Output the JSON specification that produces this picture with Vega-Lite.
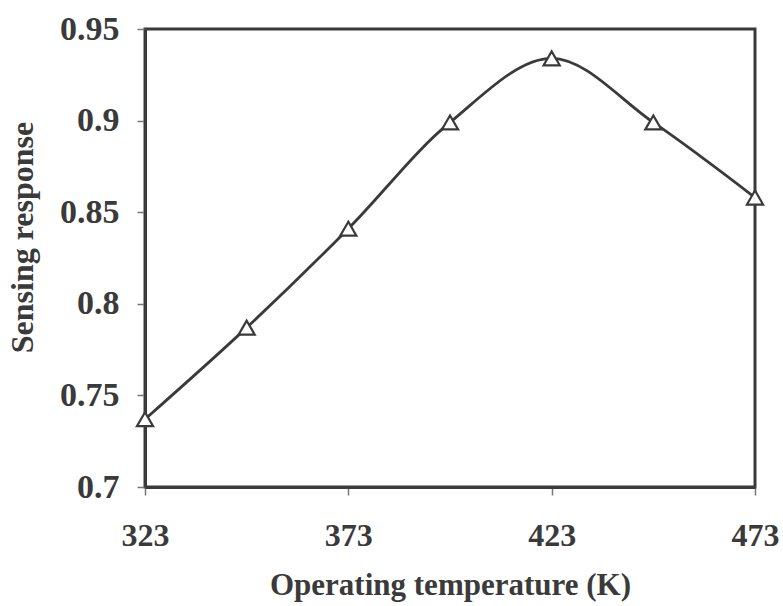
{
  "$schema": "https://vega.github.io/schema/vega-lite/v6.json",
  "autosize": "none",
  "width": 610,
  "height": 458,
  "padding": {"left": 145, "top": 29, "right": 28, "bottom": 119},
  "background": "white",
  "config": {
    "view": {"stroke": "#3a3a3a", "strokeWidth": 3},
    "axis": {
      "grid": false,
      "domainColor": "#3a3a3a",
      "domainWidth": 3,
      "tickColor": "#777777",
      "tickWidth": 1.5,
      "tickSize": 8,
      "labelFont": "Liberation Serif",
      "labelFontWeight": "bold",
      "labelColor": "#3a3a3a",
      "titleFont": "Liberation Serif",
      "titleFontWeight": "bold",
      "titleColor": "#3a3a3a"
    }
  },
  "data": {
    "values": [
      {"temperature": 323, "response": 0.737},
      {"temperature": 348, "response": 0.787},
      {"temperature": 373, "response": 0.841},
      {"temperature": 398, "response": 0.899},
      {"temperature": 423, "response": 0.934},
      {"temperature": 448, "response": 0.899},
      {"temperature": 473, "response": 0.858}
    ]
  },
  "encoding": {
    "x": {
      "field": "temperature",
      "type": "quantitative",
      "scale": {"domain": [323, 473], "nice": false, "zero": false},
      "axis": {
        "values": [323, 373, 423, 473],
        "title": "Operating temperature (K)",
        "labelFontSize": 32,
        "titleFontSize": 31,
        "labelPadding": 25,
        "titlePadding": 19,
        "labelFlush": false
      }
    },
    "y": {
      "field": "response",
      "type": "quantitative",
      "scale": {"domain": [0.7, 0.95], "nice": false, "zero": false},
      "axis": {
        "values": [0.7, 0.75, 0.8, 0.85, 0.9, 0.95],
        "format": "~g",
        "title": "Sensing response",
        "labelFontSize": 34,
        "titleFontSize": 32,
        "labelPadding": 18,
        "titlePadding": 20,
        "titleY": 208,
        "labelFlush": false
      }
    }
  },
  "layer": [
    {
      "mark": {"type": "line", "interpolate": "catmull-rom", "color": "#3a3a3a", "strokeWidth": 2.8}
    },
    {
      "mark": {"type": "point", "shape": "triangle-up", "size": 260, "filled": false, "fill": "white", "fillOpacity": 1, "stroke": "#3a3a3a", "strokeWidth": 2.2, "opacity": 1}
    }
  ]
}
